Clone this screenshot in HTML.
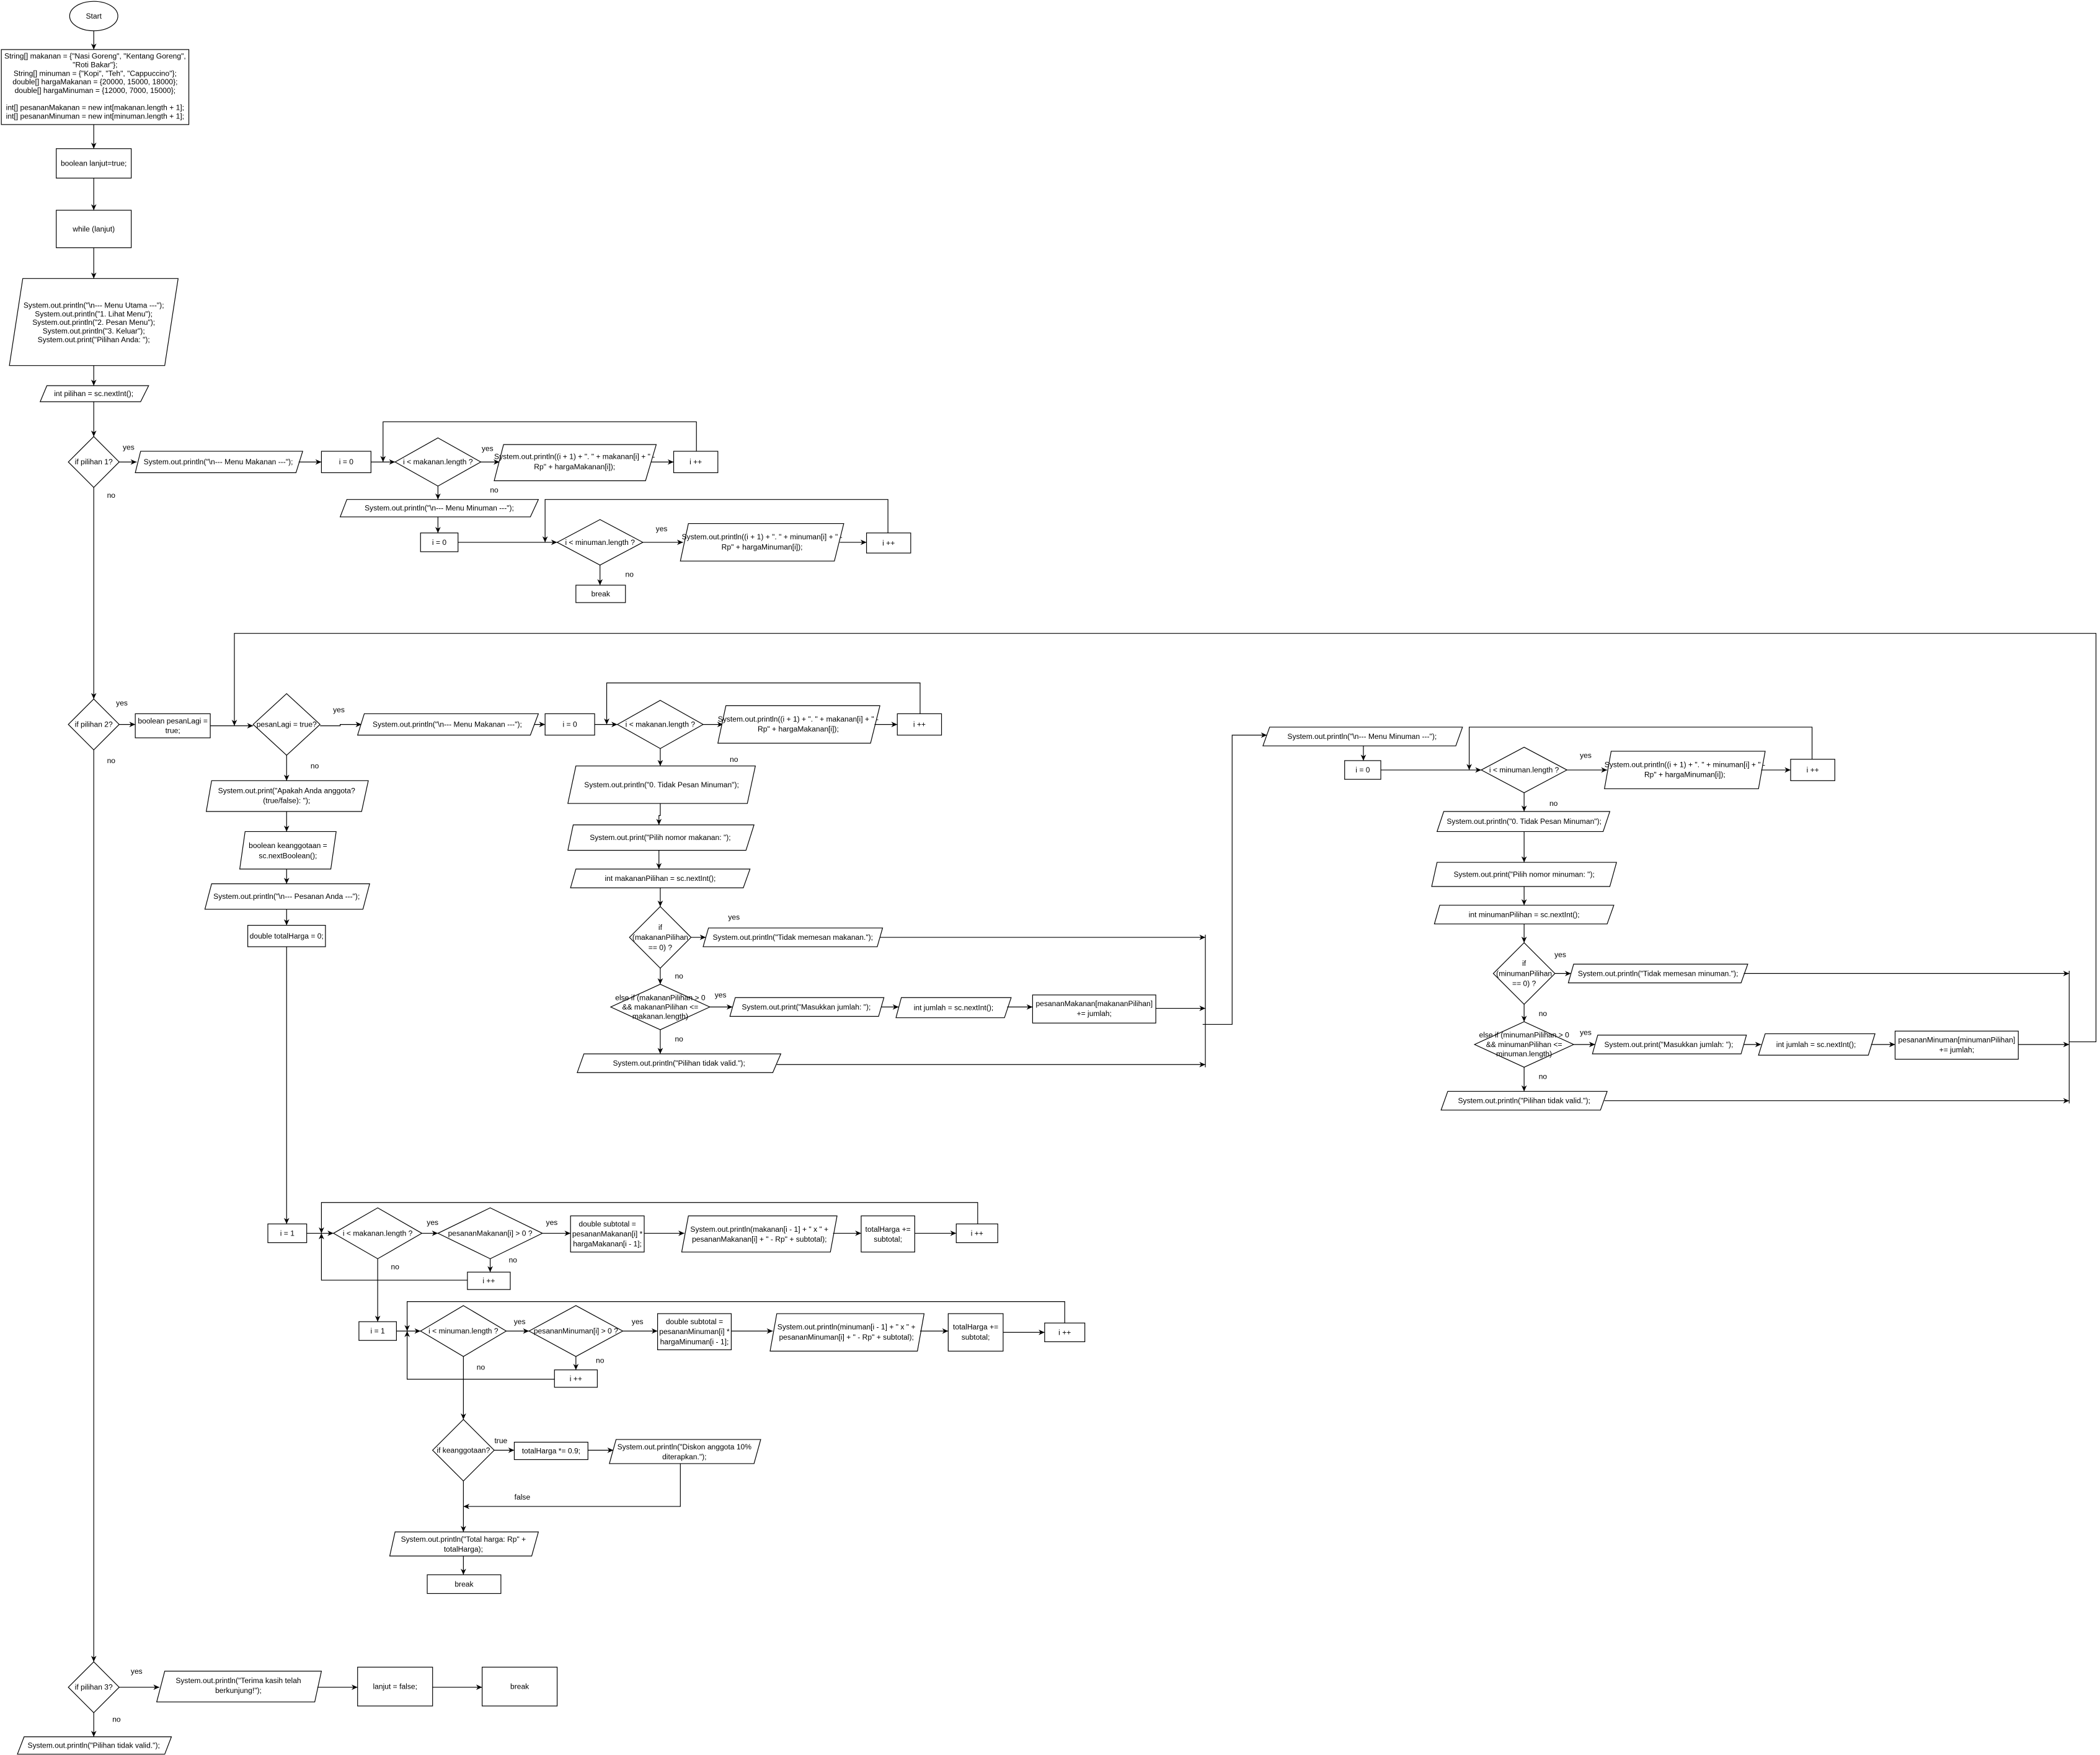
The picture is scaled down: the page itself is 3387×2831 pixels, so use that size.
<!DOCTYPE html>
<html><head><meta charset="utf-8"><style>
html,body{margin:0;padding:0;background:#fff}
svg{display:block}
text{font-family:"Liberation Sans Narrow","Liberation Sans",sans-serif;font-size:5.6px;fill:#000;text-anchor:middle;dominant-baseline:central}
.s{fill:#fff;stroke:#000;stroke-width:0.55}
.l{fill:none;stroke:#000;stroke-width:0.55}
.la{fill:none;stroke:#000;stroke-width:0.55;marker-end:url(#a)}
</style></head><body>
<svg width="3387" height="2831" viewBox="0 0 1568 1310.6" xmlns="http://www.w3.org/2000/svg">
<defs><marker id="a" viewBox="0 0 10 10" refX="10" refY="5" markerWidth="4.5" markerHeight="4.5" orient="auto" markerUnits="userSpaceOnUse"><path d="M0,0.5 L10,5 L0,9.5 L3,5 z" fill="#000"/></marker></defs>
<rect width="1568" height="1310.6" fill="#fff"/>

<!-- top column -->
<ellipse class="s" cx="70" cy="12" rx="18" ry="11"/><text x="70" y="12">Start</text>
<polyline class="la" points="70,23 70,37"/>
<rect class="s" x="1" y="37" width="140" height="56"/>
<text x="71" y="42">String[] makanan = {"Nasi Goreng", "Kentang Goreng",</text>
<text x="71" y="48.4">"Roti Bakar"};</text>
<text x="71" y="54.8">String[] minuman = {"Kopi", "Teh", "Cappuccino"};</text>
<text x="71" y="61.2">double[] hargaMakanan = {20000, 15000, 18000};</text>
<text x="71" y="67.6">double[] hargaMinuman = {12000, 7000, 15000};</text>
<text x="71" y="80.4">int[] pesananMakanan = new int[makanan.length + 1];</text>
<text x="71" y="86.8">int[] pesananMinuman = new int[minuman.length + 1];</text>
<polyline class="la" points="70,93 70,111"/>
<rect class="s" x="42" y="111" width="56" height="22"/><text x="70" y="122">boolean lanjut=true;</text>
<polyline class="la" points="70,133 70,157"/>
<rect class="s" x="42" y="157" width="56" height="28"/><text x="70" y="171">while (lanjut)</text>
<polyline class="la" points="70,185 70,208"/>
<polygon class="s" points="17,208 133,208 123,273 7,273"/>
<text x="70" y="228">System.out.println("\n--- Menu Utama ---");</text>
<text x="70" y="234.4">System.out.println("1. Lihat Menu");</text>
<text x="70" y="240.8">System.out.println("2. Pesan Menu");</text>
<text x="70" y="247.2">System.out.println("3. Keluar");</text>
<text x="70" y="253.6">System.out.print("Pilihan Anda: ");</text>
<polyline class="la" points="70,273 70,288"/>
<polygon class="s" points="35,288 111,288 105,300 30,300"/><text x="70" y="294">int pilihan = sc.nextInt();</text>
<polyline class="la" points="70,300 70,326"/>

<!-- pilihan 1 -->
<polygon class="s" points="70,326 89,345 70,364 51,345"/><text x="70" y="345">if pilihan 1?</text>
<text x="96" y="334">yes</text>
<polyline class="la" points="89,345 102,345"/>
<polygon class="s" points="105,337 226,337 221,353 101,353"/><text x="163" y="345">System.out.println("\n--- Menu Makanan ---");</text>
<polyline class="la" points="223,345 240,345"/>
<rect class="s" x="240" y="337" width="37" height="16"/><text x="258.5" y="345">i = 0</text>
<polyline class="la" points="277,345 295,345"/>
<polyline class="la" points="520,337 520,315 286,315 286,345"/>
<polygon class="s" points="327,327 359,345 327,363 295,345"/><text x="327" y="345">i &lt; makanan.length ?</text>
<text x="364" y="335">yes</text>
<polyline class="la" points="359,345 373,345"/>
<polygon class="s" points="376,332 490,332 482,359 369,359"/>
<text x="429" y="341">System.out.println((i + 1) + ". " + makanan[i] + " -</text>
<text x="429" y="348.5">Rp" + hargaMakanan[i]);</text>
<polyline class="la" points="486,345 503,345"/>
<rect class="s" x="503" y="337" width="33" height="16"/><text x="519.5" y="345">i ++</text>
<text x="369" y="366">no</text>
<polyline class="la" points="327,363 327,373"/>
<polygon class="s" points="259,373 402,373 396,386 254,386"/><text x="328" y="379.5">System.out.println("\n--- Menu Minuman ---");</text>
<polyline class="la" points="327,386 327,398"/>
<rect class="s" x="314" y="398" width="28" height="14"/><text x="328" y="405">i = 0</text>
<polyline class="la" points="342,405 416,405"/>
<polyline class="la" points="663,398 663,373 407,373 407,405"/>
<polygon class="s" points="448,388 480,405 448,422 416,405"/><text x="448" y="405">i &lt; minuman.length ?</text>
<text x="494" y="395">yes</text>
<polyline class="la" points="480,405 510,405"/>
<polygon class="s" points="514,391 630,391 623,419 508,419"/>
<text x="569" y="401">System.out.println((i + 1) + ". " + minuman[i] + " -</text>
<text x="569" y="408.5">Rp" + hargaMinuman[i]);</text>
<polyline class="la" points="627,405 647,405"/>
<rect class="s" x="647" y="398" width="33" height="15"/><text x="663.5" y="405.5">i ++</text>
<text x="470" y="429">no</text>
<polyline class="la" points="448,422 448,437"/>
<rect class="s" x="430" y="437" width="37" height="13"/><text x="448.5" y="443.5">break</text>

<text x="83" y="370">no</text>
<polyline class="la" points="70,364 70,522"/>

<!-- pilihan 2 -->
<polygon class="s" points="70,522 89,541 70,560 51,541"/><text x="70" y="541">if pilihan 2?</text>
<text x="91" y="525">yes</text>
<polyline class="la" points="89,541 101,541"/>
<rect class="s" x="101" y="533" width="56" height="18"/><text x="129" y="538.5">boolean pesanLagi =</text><text x="129" y="545.5">true;</text>
<polyline class="la" points="157,542 189,542"/>
<polyline class="la" points="1545,778 1565,778 1565,473 175,473 175,542"/>
<polygon class="s" points="214,518 239,541 214,564 189,541"/><text x="214" y="541">pesanLagi = true?</text>
<text x="253" y="530">yes</text>
<polyline class="la" points="239,542 254,542 254,541 270,541"/>
<polygon class="s" points="272,533 402,533 396,549 267,549"/><text x="334" y="541">System.out.println("\n--- Menu Makanan ---");</text>
<polyline class="la" points="399,541 407,541"/>
<rect class="s" x="407" y="533" width="37" height="16"/><text x="425.5" y="541">i = 0</text>
<polyline class="la" points="444,541 461,541"/>
<polyline class="la" points="687,533 687,510 453,510 453,541"/>
<polygon class="s" points="493,523 525,541 493,559 461,541"/><text x="493" y="541">i &lt; makanan.length ?</text>
<text x="558" y="530">yes</text>
<polyline class="la" points="525,541 540,541"/>
<polygon class="s" points="542,527 657,527 650,555 536,555"/>
<text x="596" y="537">System.out.println((i + 1) + ". " + makanan[i] + " -</text>
<text x="596" y="544.5">Rp" + hargaMakanan[i]);</text>
<polyline class="la" points="653,541 670,541"/>
<rect class="s" x="670" y="533" width="33" height="16"/><text x="686.5" y="541">i ++</text>
<text x="548" y="567">no</text>
<polyline class="la" points="493,559 493,572"/>
<polygon class="s" points="430,572 564,572 558,600 424,600"/><text x="494" y="586">System.out.println("0. Tidak Pesan Minuman");</text>
<polyline class="la" points="493,600 493,609 492,609 492,616"/>
<polygon class="s" points="428,616 563,616 557,635 424,635"/><text x="493" y="625.5">System.out.print("Pilih nomor makanan: ");</text>
<polyline class="la" points="492,635 492,649"/>
<polygon class="s" points="430,649 560,649 555,663 426,663"/><text x="493" y="656">int makananPilihan = sc.nextInt();</text>
<polyline class="la" points="493,663 493,677"/>
<polygon class="s" points="493,677 516,700 493,723 470,700"/><text x="493" y="692.5">if</text><text x="493" y="700">(makananPilihan</text><text x="493" y="707.5">== 0) ?</text>
<text x="548" y="685">yes</text>
<polyline class="la" points="516,700 527,700"/>
<polygon class="s" points="529,693 659,693 655,707 525,707"/><text x="592" y="700">System.out.println("Tidak memesan makanan.");</text>
<polyline class="la" points="657,700 900,700"/>
<text x="507" y="729">no</text>
<polyline class="la" points="493,723 493,735"/>
<polygon class="s" points="493,735 530,752 493,769 456,752"/><text x="493" y="745">else if (makananPilihan &gt; 0</text><text x="493" y="752">&amp;&amp; makananPilihan &lt;=</text><text x="493" y="759">makanan.length)</text>
<text x="538" y="743">yes</text>
<polyline class="la" points="530,752 547,752"/>
<polygon class="s" points="549,745 660,745 656,759 545,759"/><text x="602" y="752">System.out.print("Masukkan jumlah: ");</text>
<polyline class="la" points="658,752 671,752"/>
<polygon class="s" points="673,745 755,745 750,760 669,760"/><text x="712" y="752.5">int jumlah = sc.nextInt();</text>
<polyline class="la" points="752,752 771,752"/>
<rect class="s" x="771" y="743" width="92" height="21"/><text x="817" y="749.5">pesananMakanan[makananPilihan]</text><text x="817" y="757">+= jumlah;</text>
<polyline class="la" points="863,753 900,753"/>
<text x="507" y="776">no</text>
<polyline class="la" points="493,769 493,787"/>
<polygon class="s" points="436,787 583,787 577,801 431,801"/><text x="507" y="794">System.out.println("Pilihan tidak valid.");</text>
<polyline class="la" points="580,795 900,795"/>
<polyline class="l" points="900,698 900,797"/>
<polyline class="la" points="898,765 920,765 920,549 946,549"/>

<!-- right: minuman -->
<polygon class="s" points="948,543 1092,543 1087,557 943,557"/><text x="1017" y="550">System.out.println("\n--- Menu Minuman ---");</text>
<polyline class="la" points="1018,557 1018,568"/>
<rect class="s" x="1004" y="568" width="27" height="14"/><text x="1017.5" y="575">i = 0</text>
<polyline class="la" points="1031,575 1106,575"/>
<polyline class="la" points="1353,567 1353,543 1097,543 1097,575"/>
<polygon class="s" points="1138,558 1170,575 1138,592 1106,575"/><text x="1138" y="575">i &lt; minuman.length ?</text>
<text x="1184" y="564">yes</text>
<polyline class="la" points="1170,575 1200,575"/>
<polygon class="s" points="1203,561 1318,561 1313,589 1198,589"/>
<text x="1258" y="571">System.out.println((i + 1) + ". " + minuman[i] + " -</text>
<text x="1258" y="578.5">Rp" + hargaMinuman[i]);</text>
<polyline class="la" points="1315,575 1337,575"/>
<rect class="s" x="1337" y="567" width="33" height="16"/><text x="1353.5" y="575">i ++</text>
<text x="1160" y="600">no</text>
<polyline class="la" points="1138,592 1138,606"/>
<polygon class="s" points="1078,606 1202,606 1197,621 1073,621"/><text x="1138" y="613.5">System.out.println("0. Tidak Pesan Minuman");</text>
<polyline class="la" points="1138,621 1138,644"/>
<polygon class="s" points="1073,644 1207,644 1202,662 1069,662"/><text x="1138" y="653">System.out.print("Pilih nomor minuman: ");</text>
<polyline class="la" points="1138,662 1138,676"/>
<polygon class="s" points="1075,676 1205,676 1200,690 1071,690"/><text x="1138" y="683">int minumanPilihan = sc.nextInt();</text>
<polyline class="la" points="1138,690 1138,704"/>
<polygon class="s" points="1138,704 1161,727 1138,750 1115,727"/><text x="1138" y="719.5">if</text><text x="1138" y="727">(minumanPilihan</text><text x="1138" y="734.5">== 0) ?</text>
<text x="1165" y="713">yes</text>
<polyline class="la" points="1161,727 1173,727"/>
<polygon class="s" points="1175,720 1305,720 1300,734 1171,734"/><text x="1238" y="727">System.out.println("Tidak memesan minuman.");</text>
<polyline class="la" points="1302,727 1545,727"/>
<text x="1152" y="757">no</text>
<polyline class="la" points="1138,750 1138,763"/>
<polygon class="s" points="1138,763 1175,780 1138,797 1101,780"/><text x="1138" y="773">else if (minumanPilihan &gt; 0</text><text x="1138" y="780">&amp;&amp; minumanPilihan &lt;=</text><text x="1138" y="787">minuman.length)</text>
<text x="1184" y="771">yes</text>
<polyline class="la" points="1175,780 1191,780"/>
<polygon class="s" points="1193,773 1304,773 1300,787 1189,787"/><text x="1246" y="780">System.out.print("Masukkan jumlah: ");</text>
<polyline class="la" points="1302,780 1315,780"/>
<polygon class="s" points="1318,772 1400,772 1395,788 1313,788"/><text x="1356" y="780">int jumlah = sc.nextInt();</text>
<polyline class="la" points="1397,780 1415,780"/>
<rect class="s" x="1415" y="770" width="92" height="21"/><text x="1461" y="776.5">pesananMinuman[minumanPilihan]</text><text x="1461" y="784">+= jumlah;</text>
<polyline class="la" points="1507,780 1545,780"/>
<text x="1152" y="804">no</text>
<polyline class="la" points="1138,797 1138,815"/>
<polygon class="s" points="1081,815 1200,815 1195,829 1076,829"/><text x="1138" y="822">System.out.println("Pilihan tidak valid.");</text>
<polyline class="la" points="1198,822 1545,822"/>
<polyline class="l" points="1545,725 1545,824"/>

<!-- left: pesanan -->
<text x="235" y="572">no</text>
<polyline class="la" points="214,564 214,583"/>
<polygon class="s" points="158,583 275,583 270,606 154,606"/><text x="214" y="590.5">System.out.print("Apakah Anda anggota?</text><text x="214" y="598">(true/false): ");</text>
<polyline class="la" points="214,606 214,621"/>
<polygon class="s" points="183,621 251,621 247,649 179,649"/><text x="215" y="631.5">boolean keanggotaan =</text><text x="215" y="639">sc.nextBoolean();</text>
<polyline class="la" points="214,649 214,660"/>
<polygon class="s" points="158,660 276,660 271,679 153,679"/><text x="214" y="669.5">System.out.println("\n--- Pesanan Anda ---");</text>
<polyline class="la" points="214,679 214,691"/>
<rect class="s" x="185" y="691" width="58" height="16"/><text x="214" y="699">double totalHarga = 0;</text>
<polyline class="la" points="214,707 214,914"/>

<!-- loop makanan -->
<rect class="s" x="200" y="914" width="29" height="14"/><text x="214.5" y="921">i = 1</text>
<polyline class="la" points="229,921 249,921"/>
<polyline class="la" points="730,914 730,898 240,898 240,921"/>
<polyline class="la" points="349,956 240,956 240,921"/>
<polygon class="s" points="282,902 315,921 282,940 249,921"/><text x="282" y="921">i &lt; makanan.length ?</text>
<text x="323" y="913">yes</text>
<polyline class="la" points="315,921 327,921"/>
<polygon class="s" points="366,902 405,921 366,940 327,921"/><text x="366" y="921">pesananMakanan[i] &gt; 0 ?</text>
<text x="412" y="913">yes</text>
<polyline class="la" points="405,921 426,921"/>
<rect class="s" x="426" y="908" width="55" height="27"/><text x="453.5" y="914">double subtotal =</text><text x="453.5" y="921.5">pesananMakanan[i] *</text><text x="453.5" y="929">hargaMakanan[i - 1];</text>
<polyline class="la" points="481,921 511,921"/>
<polygon class="s" points="514,908 625,908 620,935 509,935"/><text x="567" y="918">System.out.println(makanan[i - 1] + " x " +</text><text x="567" y="925.5">pesananMakanan[i] + " - Rp" + subtotal);</text>
<polyline class="la" points="622,921 643,921"/>
<rect class="s" x="643" y="908" width="40" height="27"/><text x="663" y="918">totalHarga +=</text><text x="663" y="925.5">subtotal;</text>
<polyline class="la" points="683,921 714,921"/>
<rect class="s" x="714" y="914" width="31" height="14"/><text x="729.5" y="921">i ++</text>
<text x="383" y="941">no</text>
<polyline class="la" points="366,940 366,950"/>
<rect class="s" x="349" y="950" width="32" height="13"/><text x="365" y="956.5">i ++</text>
<text x="295" y="946">no</text>
<polyline class="la" points="282,940 282,987"/>

<!-- loop minuman -->
<rect class="s" x="268" y="987" width="28" height="14"/><text x="282" y="994">i = 1</text>
<polyline class="la" points="296,994 314,994"/>
<polyline class="la" points="795,988 795,972 304,972 304,994"/>
<polyline class="la" points="414,1030 304,1030 304,994"/>
<polygon class="s" points="346,975 378,994 346,1013 314,994"/><text x="346" y="994">i &lt; minuman.length ?</text>
<text x="388" y="987">yes</text>
<polyline class="la" points="378,994 395,994"/>
<polygon class="s" points="430,975 465,994 430,1013 395,994"/><text x="430" y="994">pesananMinuman[i] &gt; 0 ?</text>
<text x="476" y="987">yes</text>
<polyline class="la" points="465,994 491,994"/>
<rect class="s" x="491" y="981" width="55" height="27"/><text x="518.5" y="987">double subtotal =</text><text x="518.5" y="994.5">pesananMinuman[i] *</text><text x="518.5" y="1002">hargaMinuman[i - 1];</text>
<polyline class="la" points="546,994 577,994"/>
<polygon class="s" points="580,981 690,981 685,1009 575,1009"/><text x="632" y="991">System.out.println(minuman[i - 1] + " x " +</text><text x="632" y="998.5">pesananMinuman[i] + " - Rp" + subtotal);</text>
<polyline class="la" points="687,994 708,994"/>
<rect class="s" x="708" y="981" width="41" height="28"/><text x="728.5" y="991">totalHarga +=</text><text x="728.5" y="998.5">subtotal;</text>
<polyline class="la" points="749,995 780,995"/>
<rect class="s" x="780" y="988" width="30" height="14"/><text x="795" y="995">i ++</text>
<text x="448" y="1016">no</text>
<polyline class="la" points="430,1013 430,1023"/>
<rect class="s" x="414" y="1023" width="32" height="13"/><text x="430" y="1029.5">i ++</text>
<text x="359" y="1021">no</text>
<polyline class="la" points="346,1013 346,1060"/>

<!-- keanggotaan -->
<polygon class="s" points="346,1060 369,1083 346,1106 323,1083"/><text x="346" y="1083">if keanggotaan?</text>
<text x="374" y="1076">true</text>
<polyline class="la" points="369,1083 384,1083"/>
<rect class="s" x="384" y="1077" width="55" height="13"/><text x="411.5" y="1083.5">totalHarga *= 0.9;</text>
<polyline class="la" points="439,1083 458,1083"/>
<polygon class="s" points="460,1075 568,1075 563,1093 455,1093"/><text x="511" y="1080.5">System.out.println("Diskon anggota 10%</text><text x="511" y="1088">diterapkan.");</text>
<polyline class="la" points="508,1093 508,1125 346,1125"/>
<text x="390" y="1118">false</text>
<polyline class="la" points="346,1106 346,1144"/>
<polygon class="s" points="295,1144 402,1144 397,1162 291,1162"/><text x="346" y="1149.5">System.out.println("Total harga: Rp" +</text><text x="346" y="1157">totalHarga);</text>
<polyline class="la" points="346,1162 346,1176"/>
<rect class="s" x="319" y="1176" width="55" height="14"/><text x="346.5" y="1183">break</text>

<!-- pilihan 3 -->
<text x="83" y="568">no</text>
<polyline class="la" points="70,560 70,1241"/>
<polygon class="s" points="70,1241 89,1260 70,1279 51,1260"/><text x="70" y="1260">if pilihan 3?</text>
<text x="102" y="1248">yes</text>
<polyline class="la" points="89,1260 119,1260"/>
<polygon class="s" points="123,1248 240,1248 235,1271 117,1271"/><text x="178" y="1255">System.out.println("Terima kasih telah</text><text x="178" y="1262.5">berkunjung!");</text>
<polyline class="la" points="237,1260 267,1260"/>
<rect class="s" x="267" y="1245" width="56" height="29"/><text x="295" y="1259.5">lanjut = false;</text>
<polyline class="la" points="323,1260 360,1260"/>
<rect class="s" x="360" y="1245" width="56" height="29"/><text x="388" y="1259.5">break</text>
<text x="87" y="1284">no</text>
<polyline class="la" points="70,1279 70,1297"/>
<polygon class="s" points="18,1297 128,1297 123,1310 13,1310"/><text x="70" y="1303.5">System.out.println("Pilihan tidak valid.");</text>
</svg>
</body></html>
